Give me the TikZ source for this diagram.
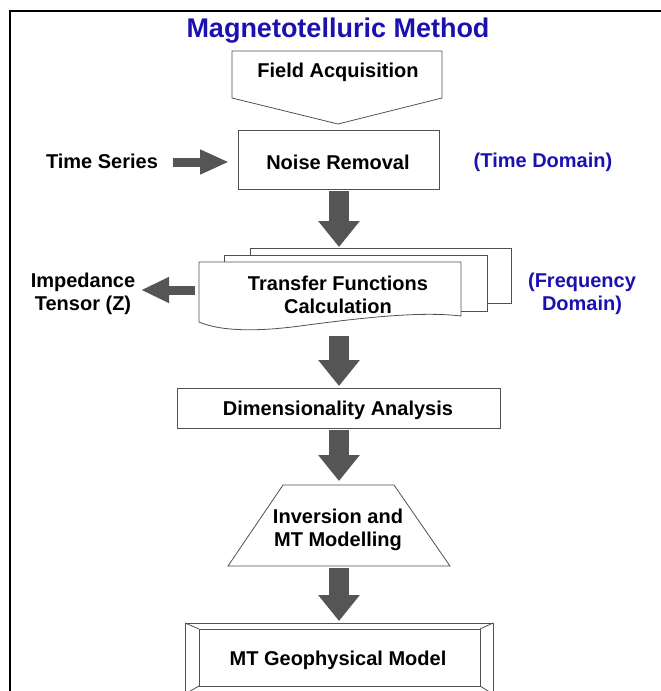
\documentclass[tikz,border=0pt]{standalone}
\usepackage{fontspec}
\setmainfont{Liberation Sans}
\usetikzlibrary{arrows.meta,calc}
\definecolor{mtblue}{RGB}{28,16,176}
\definecolor{fatgray}{RGB}{85,85,85}
\definecolor{edgegray}{RGB}{80,80,80}
\begin{document}
\begin{tikzpicture}[x=1pt,y=-1pt,
  lbl/.style={font=\fontsize{20}{22}\selectfont\bfseries, align=center, inner sep=0pt},
  bluelbl/.style={lbl, text=mtblue},
  boxedge/.style={draw=edgegray, line width=0.8pt, fill=white},
  fatdown/.style={draw=fatgray, line width=20pt, -{Triangle[width=40pt,length=26pt]}},
  fatside/.style={draw=fatgray, line width=9pt, -{Triangle[width=23pt,length=29pt]}}]
\useasboundingbox (0,0) rectangle (661,691);

% frame
\draw[line width=1.6pt] (10,700) -- (10,11) -- (670,11);

% title
\node[lbl, text=mtblue, font=\fontsize{27}{30}\selectfont\bfseries] (title) at (338,31) {Magnetotelluric Method};

% field acquisition (pentagon pointing down)
\draw[boxedge] (232,51) -- (442,51) -- (442,98) -- (338,124) -- (232,98) -- cycle;
\node[lbl] (acq) at (338,72) {Field Acquisition};

% noise removal
\draw[boxedge] (238,130) rectangle (439,189);
\coordinate (noiseS) at (339,191);
\coordinate (noiseW) at (229,162);
\node[lbl] (noise) at (338,162) {Noise Removal};
\node[lbl] (ts) at (102,161) {Time Series};
\coordinate (tsE) at (173,162);
\draw[fatside] (tsE) -- (noiseW);
\node[bluelbl] (td) at (543,162) {(Time Domain)};

% transfer functions (stack of documents)
\draw[boxedge] (250,248) rectangle (511,303);
\draw[boxedge] (224,255) rectangle (487,311);
\draw[boxedge] (199,262) -- (461,262) -- (461,316)
  .. controls (420,311) and (360,318) .. (300,326)
  .. controls (255,332) and (220,331) .. (199,322) -- cycle;
\coordinate (tfN) at (339,247);
\coordinate (tfS) at (339,336);
\coordinate (tfW) at (195,290);
\node[lbl] (tf) at (338,295) {Transfer Functions\\[1pt]Calculation};
\draw[fatdown] (noiseS) -- (tfN);

\node[lbl] (imp) at (83,294) {Impedance\\[1pt]Tensor (Z)};
\coordinate (impE) at (141,290);
\draw[fatside, -{Triangle[width=24pt,length=28pt]}] (tfW) -- (impE);
\node[bluelbl] (fd) at (582,294) {(Frequency\\[1pt]Domain)};

% dimensionality analysis
\draw[boxedge] (177,388) rectangle (500,428);
\node[lbl] (dim) at (338,410) {Dimensionality Analysis};
\coordinate (dimN) at (339,386);
\coordinate (dimS) at (339,430);
\draw[fatdown] (tfS) -- (dimN);

% inversion and modelling (trapezoid)
\draw[boxedge] (283,485) -- (394,485) -- (450,566) -- (228,566) -- cycle;
\node[lbl] (inv) at (338,530) {Inversion and\\[1pt]MT Modelling};
\coordinate (invN) at (339,481);
\coordinate (invS) at (339,568);
\draw[fatdown] (dimS) -- (invN);

% geophysical model (bevelled box)
\draw[boxedge] (185,623) rectangle (493,694);
\draw[boxedge] (199,629) rectangle (480,686);
\draw[draw=edgegray, line width=0.8pt]
  (185,623) -- (199,629) (493,623) -- (480,629)
  (185,694) -- (199,686) (493,694) -- (480,686);
\node[lbl] (geo) at (338,660) {MT Geophysical Model};
\coordinate (geoN) at (339,621);
\draw[fatdown] (invS) -- (geoN);
\end{tikzpicture}
\end{document}
